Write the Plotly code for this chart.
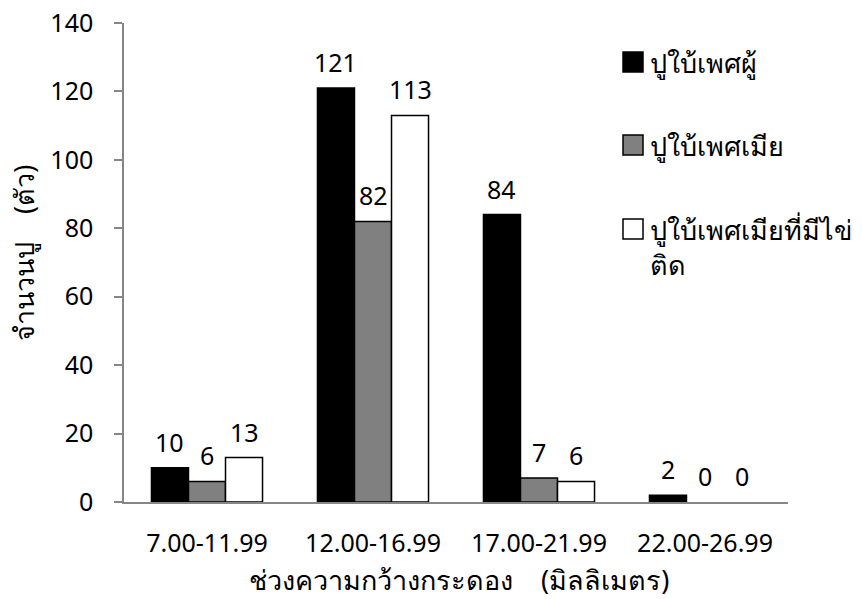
import plotly.graph_objects as go

# Carapace width classes (mm) and crab counts per group
categories = ["7.00-11.99", "12.00-16.99", "17.00-21.99", "22.00-26.99"]
series_names = ["ปูใบ้เพศผู้", "ปูใบ้เพศเมีย", "ปูใบ้เพศเมียที่มีไข่<br>ติด"]
males = [10, 121, 84, 2]
females = [6, 82, 7, 0]
berried_females = [13, 113, 6, 0]
y_ticks = [0, 20, 40, 60, 80, 100, 120, 140]
GAP = "\u00a0" * 4
x_title = "ช่วงความกว้างกระดอง" + GAP + "(มิลลิเมตร)"
y_title = "จำนวนปู" + GAP + "(ตัว)"

series_values = [males, females, berried_females]
fills = ["#000000", "#808080", "#ffffff"]

FONT = "Noto Sans, Tahoma, sans-serif"
BAR_W = 0.223
W, H = 863, 599
L, R, T, B = 124, 75, 23, 97
PW, PH = W - L - R, H - T - B


def px_x(px):
    return (px - L) / PW


def px_y(py):
    return (H - B - py) / PH


fig = go.Figure()
annotations = []
shapes = []
for k, (name, vals, col) in enumerate(zip(series_names, series_values, fills)):
    xs = [i + (k - 1) * BAR_W for i in range(len(categories))]
    # empty bars get no outline so nothing is drawn on the axis
    outline = [1.5 if v > 0 else 0 for v in vals]
    fig.add_trace(go.Bar(
        x=xs, y=vals, width=BAR_W, name=name, showlegend=False,
        marker=dict(color=col, line=dict(color="#000000", width=outline)),
    ))
    for x, v in zip(xs, vals):
        annotations.append(dict(
            x=x, y=v, xref="x", yref="y", text=str(v), showarrow=False,
            yanchor="middle", yshift=26, font=dict(size=25, color="#000000", family=FONT),
        ))

# Legend drawn as swatches with text next to them
legend_rows = [62, 145, 229]
for name, col, cy in zip(series_names, fills, legend_rows):
    shapes.append(dict(
        type="rect", xref="paper", yref="paper",
        x0=px_x(623), x1=px_x(643), y0=px_y(cy + 10), y1=px_y(cy - 10),
        fillcolor=col, line=dict(color="#000000", width=1.5),
    ))
    annotations.append(dict(
        x=px_x(648), y=px_y(cy - 20), xref="paper", yref="paper",
        xanchor="left", yanchor="top", align="left", showarrow=False,
        text=name, font=dict(size=27, color="#000000", family=FONT),
    ))

# Axis titles
annotations.append(dict(
    x=px_x(459), y=px_y(579), xref="paper", yref="paper",
    xanchor="center", yanchor="middle", showarrow=False,
    text=x_title, font=dict(size=27, color="#000000", family=FONT),
))
annotations.append(dict(
    x=px_x(23), y=px_y(253), xref="paper", yref="paper",
    xanchor="center", yanchor="middle", showarrow=False, textangle=-90,
    text=y_title, font=dict(size=27, color="#000000", family=FONT),
))

fig.update_layout(
    width=W, height=H,
    margin=dict(l=L, r=R, t=T, b=B),
    paper_bgcolor="#ffffff", plot_bgcolor="#ffffff",
    barmode="overlay",
    font=dict(family=FONT, size=25, color="#000000"),
    showlegend=False,
    annotations=annotations,
    shapes=shapes,
    xaxis=dict(
        range=[-0.5, len(categories) - 0.5], automargin=False,
        tickmode="array", tickvals=list(range(len(categories))), ticktext=categories,
        showline=True, linecolor="#868686", linewidth=1.5,
        ticks="", showgrid=False, zeroline=False,
        tickfont=dict(size=25), ticklabelstandoff=18,
    ),
    yaxis=dict(
        range=[0, 140], tickmode="array", tickvals=y_ticks, automargin=False,
        showline=True, linecolor="#868686", linewidth=1.5,
        ticks="outside", ticklen=8, tickcolor="#868686", tickwidth=1.5,
        showgrid=False, zeroline=False,
        tickfont=dict(size=25), ticklabelstandoff=16,
    ),
)

fig.write_html("out.html")
